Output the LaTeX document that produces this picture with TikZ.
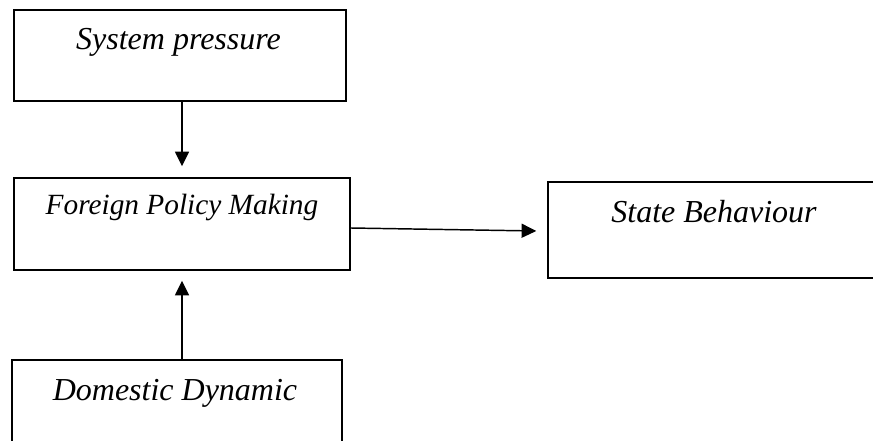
\documentclass[tikz,border=0pt]{standalone}
\usepackage{fontspec}
\setmainfont{Liberation Serif}
\usetikzlibrary{arrows.meta}
\begin{document}
\begin{tikzpicture}[x=0.75pt,y=-0.75pt,
  box/.style={draw,line width=1.1pt,rectangle,inner sep=0pt},
  lbl/.style={anchor=base,inner sep=0pt,font=\fontsize{24}{28}\selectfont\itshape},
  arr/.style={line width=1.1pt,-{Triangle[length=11pt,width=10.5pt]}}]
\useasboundingbox (0,0) rectangle (873,441);
\clip (0,0) rectangle (873,441);
\node[box,minimum width=249pt,minimum height=68.25pt] (sys) at (180,55.5) {};
\node[box,minimum width=252pt,minimum height=69pt] (fpm) at (182,224) {};
\node[box,minimum width=300pt,minimum height=72pt] (sb) at (748,230) {};
\node[box,minimum width=247.5pt,minimum height=82.5pt] (dom) at (177,415) {};
\node[lbl] (sysT) at (178.5,50) {System pressure};
\node[lbl,font=\fontsize{22}{26}\selectfont\itshape] (fpmT) at (182,215) {Foreign Policy Making};
\node[lbl] (sbT) at (714,223) {State Behaviour};
\node[lbl] (domT) at (175,400) {Domestic Dynamic};
\coordinate (downTip) at ([yshift=8.25pt]fpm.north);
\coordinate (upTip) at ([yshift=-7.5pt]fpm.south);
\coordinate (rightTip) at ([xshift=-8.25pt,yshift=-0.75pt]sb.west);
\draw[arr] (sys.south -| fpm.north) -- (downTip);
\draw[arr] (dom.north -| fpm.south) -- (upTip);
\draw[arr] ([yshift=-3pt]fpm.east) -- (rightTip);
\end{tikzpicture}
\end{document}
